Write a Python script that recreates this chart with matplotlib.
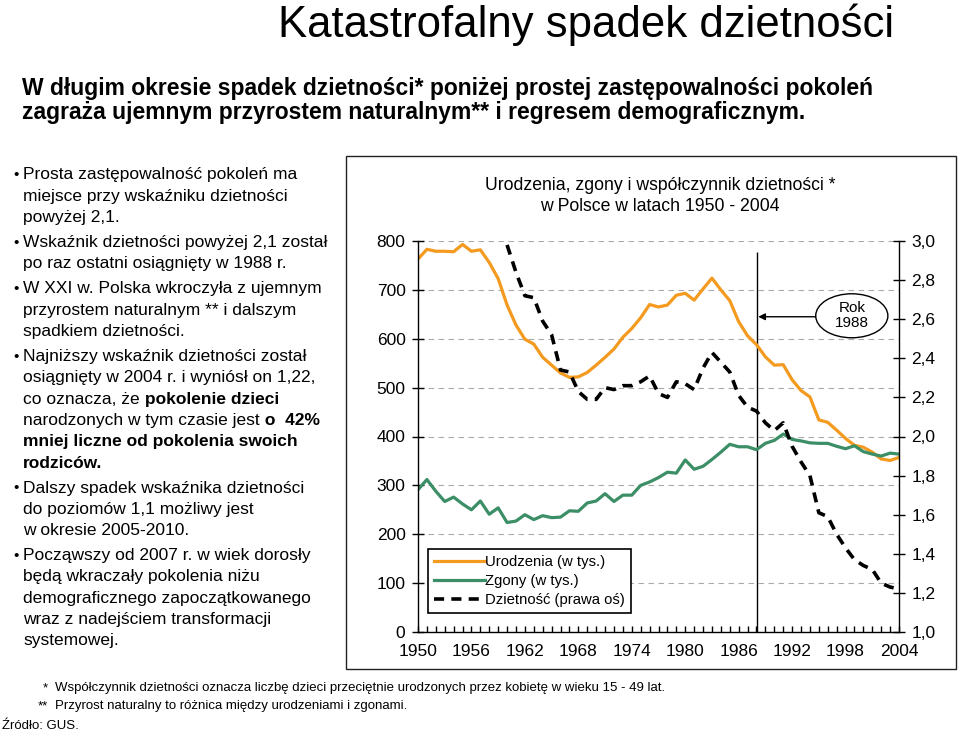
import matplotlib
matplotlib.use("Agg")
import matplotlib.pyplot as plt
from matplotlib.patches import Ellipse, Rectangle
from matplotlib.ticker import MultipleLocator, FuncFormatter

plt.rcParams["font.family"] = ["Liberation Sans", "DejaVu Sans"]

W, H = 959, 733

# dane GUS
years = list(range(1950, 2005))
births = [763, 783, 779, 779, 778, 793, 779, 782, 756, 723,
          669, 628, 599, 589, 562, 546, 530, 521, 522, 531,
          546, 562, 579, 603, 621, 643, 670, 665, 669, 689,
          693, 679, 702, 724, 700, 678, 635, 606, 588, 563,
          546, 547, 516, 494, 481, 434, 429, 413, 396, 382,
          378, 368, 354, 351, 357]
deaths = [291, 312, 288, 267, 276, 262, 250, 268, 241, 254,
          224, 227, 240, 230, 238, 234, 235, 248, 247, 264,
          268, 283, 267, 280, 280, 300, 307, 316, 327, 325,
          352, 333, 339, 353, 368, 384, 379, 379, 373, 386,
          392, 405, 394, 391, 387, 386, 386, 380, 375, 381,
          369, 364, 360, 366, 364]
tfr_years = list(range(1960, 2005))
tfr = [2.98, 2.84, 2.72, 2.71, 2.59, 2.52, 2.34, 2.33, 2.23, 2.19,
       2.19, 2.25, 2.24, 2.26, 2.26, 2.28, 2.31, 2.22, 2.20, 2.28,
       2.27, 2.24, 2.35, 2.43, 2.38, 2.33, 2.21, 2.15, 2.13, 2.07,
       2.03, 2.07, 1.95, 1.87, 1.80, 1.61, 1.59, 1.50, 1.43, 1.37,
       1.34, 1.32, 1.25, 1.23, 1.22]

labels = ["Urodzenia (w tys.)", "Zgony (w tys.)", "Dzietność (prawa oś)"]

title = "Katastrofalny spadek dzietności"
subtitle = ["W długim okresie spadek dzietności* poniżej prostej zastępowalności pokoleń",
            "zagraża ujemnym przyrostem naturalnym** i regresem demograficznym."]
chart_title = "Urodzenia, zgony i współczynnik dzietności *\nw Polsce w latach 1950 - 2004"

N, B = "normal", "bold"
bullets = [
    [[("Prosta zastępowalność pokoleń ma", N)],
     [("miejsce przy wskaźniku dzietności", N)],
     [("powyżej 2,1.", N)]],
    [[("Wskaźnik dzietności powyżej 2,1 został", N)],
     [("po raz ostatni osiągnięty w 1988 r.", N)]],
    [[("W XXI w. Polska wkroczyła z ujemnym", N)],
     [("przyrostem naturalnym ** i dalszym", N)],
     [("spadkiem dzietności.", N)]],
    [[("Najniższy wskaźnik dzietności został", N)],
     [("osiągnięty w 2004 r. i wyniósł on 1,22,", N)],
     [("co oznacza, że", N), (" pokolenie dzieci", B)],
     [("narodzonych w tym czasie jest", N), (" o  42%", B)],
     [("mniej liczne od pokolenia swoich", B)],
     [("rodziców.", B)]],
    [[("Dalszy spadek wskaźnika dzietności", N)],
     [("do poziomów 1,1 możliwy jest", N)],
     [("w okresie 2005-2010.", N)]],
    [[("Począwszy od 2007 r. w wiek dorosły", N)],
     [("będą wkraczały pokolenia niżu", N)],
     [("demograficznego zapoczątkowanego", N)],
     [("wraz z nadejściem transformacji", N)],
     [("systemowej.", N)]],
]

footnotes = ["Współczynnik dzietności oznacza liczbę dzieci przeciętnie urodzonych przez kobietę w wieku 15 - 49 lat.",
             "Przyrost naturalny to różnica między urodzeniami i zgonami."]
source = "Źródło: GUS."


def px(x, y):
    return x / W, 1 - y / H


fig = plt.figure(figsize=(W / 100, H / 100), dpi=100)
renderer = fig.canvas.get_renderer()

# ramka wykresu
fig.patches.append(Rectangle(px(346, 669), 610 / W, 513 / H, transform=fig.transFigure,
                             fill=False, edgecolor="#222222", linewidth=1.0))

ax = fig.add_axes([418 / W, 1 - 632 / H, 481 / W, 391 / H])
ax2 = ax.twinx()

l1, = ax.plot(years, births, color="#F39A1F", lw=2.3, solid_joinstyle="round", label=labels[0])
l2, = ax.plot(years, deaths, color="#3B8E66", lw=2.3, solid_joinstyle="round", label=labels[1])
l3, = ax2.plot(tfr_years, tfr, color="black", lw=2.6, dashes=(2.8, 2.0), label=labels[2])

ax.set_xlim(1950, 2004)
ax.set_ylim(0, 800)
ax2.set_ylim(1.0, 3.0)

ax.xaxis.set_major_locator(MultipleLocator(6))
ax.xaxis.set_minor_locator(MultipleLocator(1))
ax.yaxis.set_major_locator(MultipleLocator(100))
ax2.yaxis.set_major_locator(MultipleLocator(0.2))
ax2.yaxis.set_major_formatter(FuncFormatter(lambda v, p: f"{v:.1f}".replace(".", ",")))

ax.tick_params(axis="x", which="both", direction="in", length=4, width=1, labelsize=12.5, pad=9)
ax.tick_params(axis="y", direction="inout", length=8, width=1, labelsize=12.5, pad=5)
ax2.tick_params(axis="y", direction="inout", length=8, width=1, labelsize=12.5, pad=5)

for y in range(100, 900, 100):
    ax.axhline(y, color="#AAAAAA", lw=0.8, dashes=(5, 4), zorder=0)

for s in ["top", "right"]:
    ax.spines[s].set_visible(False)
for s in ["top", "left", "bottom"]:
    ax2.spines[s].set_visible(False)
for a in (ax, ax2):
    for s in a.spines.values():
        s.set_linewidth(1.0)

# rok 1988
ax.vlines(1988.1, 0, 778, color="black", lw=1.0, zorder=1)
ax.add_patch(Ellipse((1998.7, 647), 8.1, 90, facecolor="white", edgecolor="black", lw=1.0, zorder=3))
ax.text(1998.7, 647, "Rok\n1988", ha="center", va="center", fontsize=11, linespacing=1.1, zorder=4)
ax.annotate("", xy=(1988.2, 645), xytext=(1994.65, 645),
            arrowprops=dict(arrowstyle="-|>", color="black", lw=1.0, mutation_scale=10, shrinkA=0, shrinkB=0))

leg = ax2.legend(handles=[l1, l2, l3], loc="lower left", bbox_to_anchor=(0.021, 0.049),
                 borderaxespad=0, fancybox=False, edgecolor="black", framealpha=1,
                 fontsize=10.7, handlelength=3.4, handletextpad=0.05, labelspacing=0.32,
                 borderpad=0.4)
leg.get_frame().set_linewidth(1.2)

fig.text(*px(660, 196), chart_title, ha="center", va="center", fontsize=12.7, linespacing=1.25)

# nagłówki
fig.text(*px(278, 37), title, ha="left", va="baseline", fontsize=31.5)
fig.text(*px(22, 88), subtitle[0], ha="left", va="center", fontsize=16.5, fontweight="bold")
fig.text(*px(22, 112), subtitle[1], ha="left", va="center", fontsize=16.5, fontweight="bold")

# punkty po lewej
y = 175
for bullet in bullets:
    fig.text(*px(13, y), "•", ha="left", va="center", fontsize=11)
    for line in bullet:
        x = 23
        for txt, wt in line:
            t = fig.text(*px(x, y), txt, ha="left", va="center", fontsize=12.5, fontweight=wt)
            x += t.get_window_extent(renderer).width
        y += 21.3
    y += 25 - 21.3

fig.text(*px(48, 688), "*", ha="right", va="center", fontsize=9.5)
fig.text(*px(55, 688), footnotes[0], ha="left", va="center", fontsize=9.5)
fig.text(*px(48, 706), "**", ha="right", va="center", fontsize=9.5)
fig.text(*px(55, 706), footnotes[1], ha="left", va="center", fontsize=9.5)
fig.text(*px(2, 726), source, ha="left", va="center", fontsize=9.5)

fig.savefig("out.png", dpi=100)
